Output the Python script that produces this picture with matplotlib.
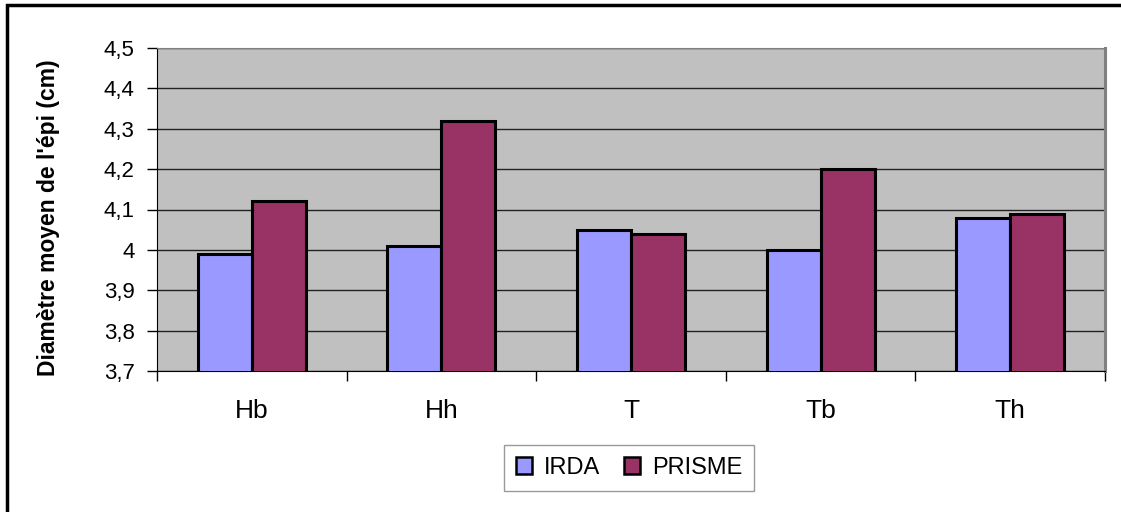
import matplotlib.pyplot as plt
import numpy as np
from matplotlib.patches import Rectangle
from matplotlib.ticker import FuncFormatter, FixedLocator

plt.rcParams['font.family'] = ['Liberation Sans', 'DejaVu Sans']

categories = ["Hb", "Hh", "T", "Tb", "Th"]
irda = [3.99, 4.01, 4.05, 4.00, 4.08]
prisme = [4.12, 4.32, 4.04, 4.20, 4.09]

fig = plt.figure(figsize=(11.21, 5.12), dpi=100)
ax = fig.add_axes([157 / 1121, 1 - 371 / 512, 948 / 1121, 323 / 512])
ax.set_facecolor('#C0C0C0')

x = np.arange(len(categories))
w = 0.285
ax.bar(x - w / 2, irda, w, bottom=0, color='#9999FF', edgecolor='black', linewidth=2.2, label='IRDA', zorder=3)
ax.bar(x + w / 2, prisme, w, bottom=0, color='#993366', edgecolor='black', linewidth=2.2, label='PRISME', zorder=3)

ax.set_ylim(3.7, 4.5)
ax.set_xlim(-0.5, len(categories) - 0.5)
ax.set_yticks(np.arange(3.7, 4.51, 0.1))
ax.yaxis.set_major_formatter(FuncFormatter(lambda v, p: f"{v:.1f}".replace('.', ',').replace(',0', '')))
ax.grid(axis='y', color='#222222', linewidth=1, zorder=1)

ax.set_xticks(x)
ax.set_xticklabels(categories, fontsize=19)
ax.tick_params(axis='x', which='major', length=0, pad=20)
ax.xaxis.set_minor_locator(FixedLocator(np.arange(-0.5, len(categories), 1.0)))
ax.tick_params(axis='x', which='minor', length=7, width=1, direction='out')
ax.tick_params(axis='y', labelsize=16, length=7, width=1, direction='out', pad=9)

ax.spines['top'].set_color('#808080')
ax.spines['right'].set_color('#808080')
ax.spines['right'].set_linewidth(2.2)
for s in ['left', 'bottom']:
    ax.spines[s].set_color('black')

ax.set_ylabel("Diamètre moyen de l'épi (cm)", fontsize=16.5, fontweight='bold')
ax.yaxis.set_label_coords(-97 / 948, 0.475)

leg = ax.legend(loc='center', bbox_to_anchor=(629 / 1121, 1 - 468 / 512), bbox_transform=fig.transFigure,
                ncol=2, fontsize=17, frameon=True, fancybox=False, edgecolor='#808080',
                handlelength=0.7, handleheight=0.7, handletextpad=0.5, columnspacing=1.0, borderpad=0.5)
leg.get_frame().set_linewidth(1)
for h in leg.legend_handles:
    h.set_linewidth(1.8)

# outer frame runs off the right and bottom edges
fig.patches.append(Rectangle((7 / 1121, -0.05), 1.1, 1.05 - 5 / 512, transform=fig.transFigure,
                             fill=False, edgecolor='black', linewidth=2.5, clip_on=False))

fig.savefig('out.png', dpi=100)
